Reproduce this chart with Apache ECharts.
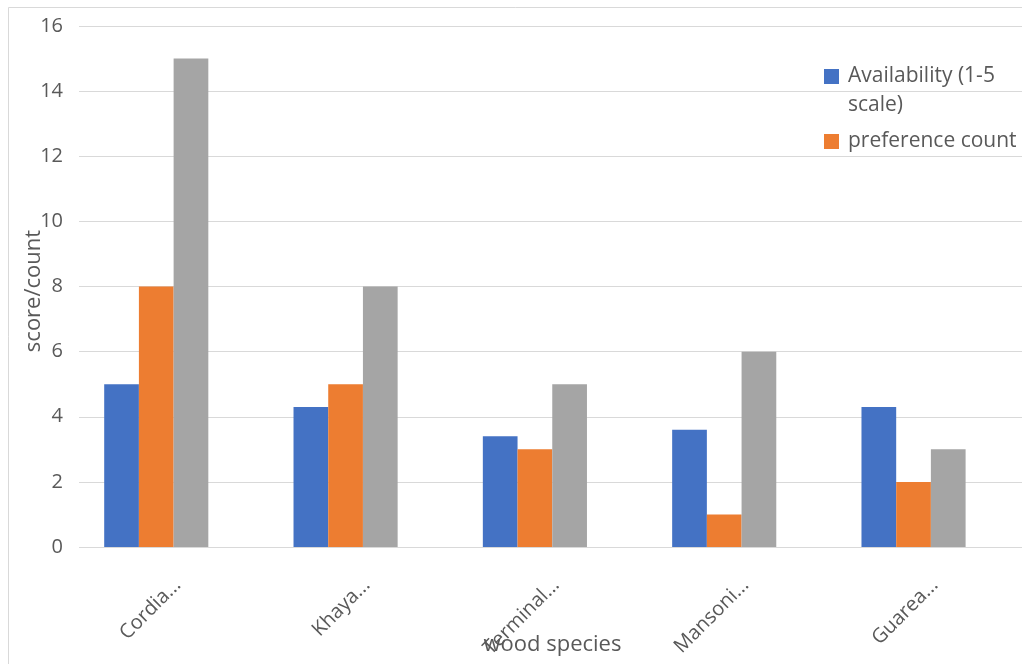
<!DOCTYPE html>
<html>
<head>
<meta charset="utf-8">
<script src="https://cdn.jsdelivr.net/npm/echarts@6/dist/echarts.min.js"></script>
<style>
  html, body { margin: 0; padding: 0; background: #ffffff; }
  #chart { width: 1022px; height: 664px; }
</style>
</head>
<body>
<div id="chart"></div>
<script>
// Wood species surveyed and their scores
const species = ['Cordia...', 'Khaya...', 'Terminal...', 'Mansoni...', 'Guarea...'];
const availability = [5, 4.3, 3.4, 3.6, 4.3];
const preferenceCount = [8, 5, 3, 1, 2];
const usageCount = [15, 8, 5, 6, 3];

const FONT = '"Open Sans", "Liberation Sans", sans-serif';
const TEXT = '#595959';
const GRID_LINE = '#D9D9D9';
const LINE_H = 29;
const FS = 20;
const LEGEND_FS = 21;

const chart = echarts.init(document.getElementById('chart'), null, { renderer: 'canvas' });

const frame = { top: 26, bottom: 117, outerBoundsMode: 'none', containLabel: false };

const option = {
  animation: false,
  backgroundColor: '#ffffff',
  textStyle: { fontFamily: FONT },
  graphic: [
    {
      type: 'rect', silent: true, z: -10,
      shape: { x: 8.5, y: 7.5, width: 1040, height: 700 },
      style: { fill: 'none', stroke: GRID_LINE, lineWidth: 1 }
    },
    {
      type: 'text', silent: true,
      x: 34, y: 291, rotation: Math.PI / 2,
      style: {
        text: 'score/count', fill: TEXT, font: '22px ' + FONT,
        align: 'center', verticalAlign: 'middle'
      }
    }
  ],
  grid: [
    // value gridlines, tick labels and the horizontal axis title
    Object.assign({ left: 79, right: -4 }, frame),
    // bars
    Object.assign({ left: 61.6, right: 13.8 }, frame),
    // category labels
    Object.assign({ left: 83, right: -7.6 }, frame)
  ],
  xAxis: [
    {
      gridIndex: 0, type: 'category', data: species,
      axisLine: { show: false }, axisTick: { show: false }, axisLabel: { show: false },
      name: 'wood species', nameLocation: 'middle', nameGap: 87,
      nameTextStyle: { color: TEXT, fontSize: 22, fontFamily: FONT }
    },
    { gridIndex: 1, type: 'category', data: species, show: false },
    {
      gridIndex: 2, type: 'category', data: species,
      axisLine: { show: false }, axisTick: { show: false },
      axisLabel: { interval: 0, rotate: 45, margin: 35, color: TEXT, fontSize: FS, fontFamily: FONT }
    }
  ],
  yAxis: [
    {
      gridIndex: 0, type: 'value', min: 0, max: 16, interval: 2,
      axisLine: { show: false }, axisTick: { show: false },
      axisLabel: { margin: 16, color: TEXT, fontSize: FS, fontFamily: FONT },
      splitLine: { lineStyle: { color: GRID_LINE, width: 1 } }
    },
    { gridIndex: 1, type: 'value', min: 0, max: 16, interval: 2, show: false, splitLine: { show: false } },
    { gridIndex: 2, type: 'value', min: 0, max: 16, interval: 2, show: false, splitLine: { show: false } }
  ],
  legend: [
    {
      data: ['Availability (1-5 scale)'],
      left: 824, top: 76.5 - LINE_H * 1.5, padding: 0,
      itemWidth: 15, itemHeight: 15, icon: 'rect',
      // empty first line keeps the swatch level with the first text line
      formatter: () => '\nAvailability (1-5\nscale)',
      textStyle: { color: TEXT, fontSize: LEGEND_FS, fontFamily: FONT, lineHeight: LINE_H, padding: [0, 0, 0, 4] }
    },
    {
      data: ['preference count'],
      left: 824, top: 141.5 - LINE_H / 2, padding: 0,
      itemWidth: 15, itemHeight: 15, icon: 'rect',
      textStyle: { color: TEXT, fontSize: LEGEND_FS, fontFamily: FONT, lineHeight: LINE_H, padding: [0, 0, 0, 4] }
    }
  ],
  series: [
    {
      name: 'Availability (1-5 scale)', type: 'bar', data: availability,
      xAxisIndex: 1, yAxisIndex: 1, barGap: '0%', barCategoryGap: '45%',
      itemStyle: { color: '#4472C4' }
    },
    {
      name: 'preference count', type: 'bar', data: preferenceCount,
      xAxisIndex: 1, yAxisIndex: 1, barGap: '0%', barCategoryGap: '45%',
      itemStyle: { color: '#ED7D31' }
    },
    {
      name: 'usage count', type: 'bar', data: usageCount,
      xAxisIndex: 1, yAxisIndex: 1, barGap: '0%', barCategoryGap: '45%',
      itemStyle: { color: '#A5A5A5' }
    }
  ]
};

chart.setOption(option);
</script>
</body>
</html>
